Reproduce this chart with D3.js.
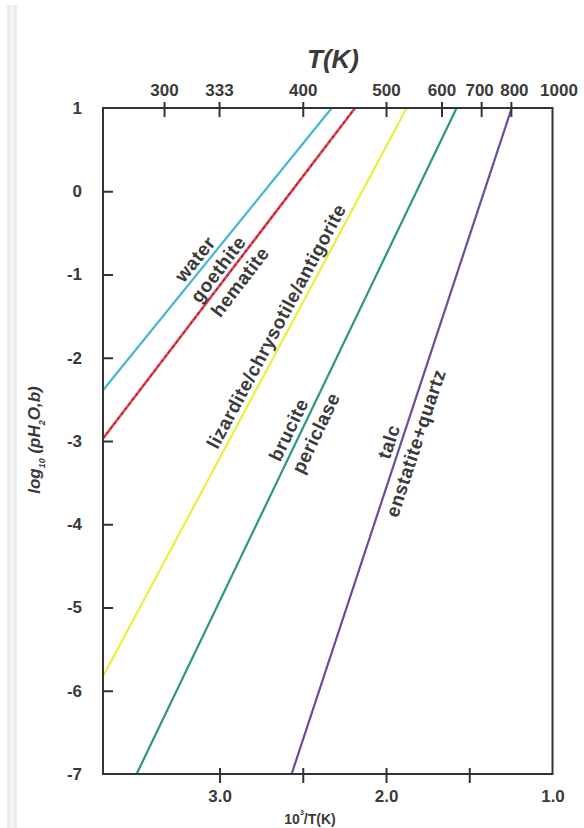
<!DOCTYPE html>
<html><head><meta charset="utf-8">
<script src="https://cdn.jsdelivr.net/npm/d3@7"></script>
<style>
body{margin:0;background:#fff;}
svg{display:block;font-family:"Liberation Sans",Arial,sans-serif;}
</style></head>
<body>
<svg id="chart" width="584" height="828"></svg>
<script>
// ---- data ----
const xDomain = [3.7, 1.0];           // 10^3/T(K)
const yDomain = [-7, 1];              // log10(pH2O, b)
const bottomTicks = [3.0, 2.5, 2.0, 1.5, 1.0];
const bottomTickLabels = ["3.0", "", "2.0", "", "1.0"];
const topTempsK = [300, 333, 400, 500, 600, 700, 800, 1000];
const yTicks = [1, 0, -1, -2, -3, -4, -5, -6, -7];

const lineNames = ["water/goethite", "goethite/hematite", "serpentine", "brucite/periclase", "talc/enstatite"];
const lineColors = ["#45b6d6", "#e8424c", "#eeee3c", "#2c9878", "#6b4b9c"];
const waterLine   = [[3.7, -2.39], [2.326, 1]];
const hematiteLine= [[3.7, -2.97], [2.186, 1]];
const serpLine    = [[3.7, -5.83], [1.876, 1]];
const bruciteLine = [[3.498, -7], [1.576, 1]];
const talcLine    = [[2.567, -7], [1.245, 1]];
const lines = [waterLine, hematiteLine, serpLine, bruciteLine, talcLine];

const labelTexts = ["water", "goethite", "hematite", "lizardite/chrysotile/antigorite", "brucite", "periclase", "talc", "enstatite+quartz"];
const labelLine  = [0, 1, 1, 2, 3, 3, 4, 4];
const labelLogP  = [-0.90, -1.018, -0.987, -1.691, -2.928, -2.832, -3.053, -2.974]; // foot point on the line
const labelSide  = [-11, -11, 14, -12, -12, 14, -12, 14];                              // px, perpendicular

// ---- layout ----
const svg = d3.select("#chart");
const L = 103, R = 552.5, T = 108, B = 774;
const x = d3.scaleLinear().domain(xDomain).range([L, R]);
const y = d3.scaleLinear().domain(yDomain).range([B, T]);
const ink = "#3a3a3a";
const font = "Liberation Sans, Arial, sans-serif";

// left page strip
svg.append("rect").attr("x", 7).attr("y", 5).attr("width", 10).attr("height", 823).attr("fill", "#ebebeb");
svg.append("rect").attr("x", 10).attr("y", 5).attr("width", 4).attr("height", 823).attr("fill", "#f4f4f4");

// lines
const lineGen = d3.line().x(d => x(d[0])).y(d => y(d[1]));
const g = svg.append("g");
lines.forEach((ln, i) => {
  g.append("path").attr("d", lineGen(ln)).attr("fill", "none")
    .attr("stroke", lineColors[i]).attr("stroke-width", i === 1 ? 2.6 : 2.2);
  if (i === 1) {
    g.append("path").attr("d", lineGen(ln)).attr("fill", "none")
      .attr("stroke", "#8a2038").attr("stroke-width", 1.1).attr("stroke-dasharray", "3,3");
  }
});

// frame
svg.append("rect").attr("x", L).attr("y", T).attr("width", R - L).attr("height", B - T)
  .attr("fill", "none").attr("stroke", "#333").attr("stroke-width", 2);

// axes
const topScaleVals = topTempsK.map(t => 1000 / t);
const topAxis = d3.axisTop(x).tickValues(topScaleVals).tickSize(6)
  .tickFormat((d, i) => String(topTempsK[i])).tickPadding(6);
const gt = svg.append("g").attr("transform", `translate(0,${T})`).call(topAxis);
const botAxis = d3.axisBottom(x).tickValues(bottomTicks).tickSize(9)
  .tickFormat((d, i) => bottomTickLabels[i]).tickPadding(7);
const gb = svg.append("g").attr("transform", `translate(0,${B})`).call(botAxis);
const leftAxis = d3.axisLeft(y).tickValues(yTicks).tickSize(0).tickPadding(21)
  .tickFormat(d => String(d));
const gl = svg.append("g").attr("transform", `translate(${L},0)`).call(leftAxis);

[gt, gb, gl].forEach(a => {
  a.select(".domain").remove();
  a.selectAll("text").attr("fill", ink).attr("font-size", 17).attr("font-weight", "bold")
    .attr("font-family", font);
  a.selectAll("line").attr("stroke", "#333").attr("stroke-width", 2);
});
// nudge crowded top labels apart
gt.selectAll(".tick text").attr("dx", (d, i) => topTempsK[i] === 800 ? 3 : topTempsK[i] === 1000 ? 6 : topTempsK[i] === 700 ? -2 : 0);
// inner tick parts
gt.selectAll(".tick").filter(d => d > 1.001).append("line").attr("y1", 0).attr("y2", 9)
  .attr("stroke", "#333").attr("stroke-width", 2);
gt.selectAll(".tick").filter(d => d <= 1.001).select("line").remove();
gb.selectAll(".tick").append("line").attr("y1", 0).attr("y2", -6)
  .attr("stroke", "#333").attr("stroke-width", 2);
gb.selectAll(".tick").filter(d => d <= 1.001).selectAll("line").remove();
gl.selectAll(".tick").filter(d => d < 1 && d > -7).append("line").attr("x1", 0).attr("x2", 10)
  .attr("stroke", "#333").attr("stroke-width", 2);

// titles
svg.append("text").attr("x", 333).attr("y", 68).attr("text-anchor", "middle")
  .attr("font-size", 26).attr("font-weight", "bold").attr("font-style", "italic")
  .attr("fill", ink).text("T(K)");

const bl = svg.append("text").attr("x", 310).attr("y", 824).attr("text-anchor", "middle")
  .attr("font-size", 14).attr("font-weight", "bold").attr("fill", ink);
bl.append("tspan").text("10");
bl.append("tspan").attr("font-size", 7).attr("dy", -9).text("3");
bl.append("tspan").attr("dy", 9).text("/T(K)");

const yl = svg.append("text").attr("transform", "translate(40,440) rotate(-90)")
  .attr("text-anchor", "middle").attr("font-size", 17).attr("font-weight", "bold")
  .attr("font-style", "italic").attr("fill", ink);
yl.append("tspan").text("log");
yl.append("tspan").attr("font-size", 9).attr("dy", 5).text("10");
yl.append("tspan").attr("dy", -5).text(" (pH");
yl.append("tspan").attr("font-size", 9).attr("dy", 5).text("2");
yl.append("tspan").attr("dy", -5).text("O,b)");

// line labels
labelTexts.forEach((txt, i) => {
  const ln = lines[labelLine[i]];
  const x0 = x(ln[0][0]), y0 = y(ln[0][1]), x1 = x(ln[1][0]), y1 = y(ln[1][1]);
  const len = Math.hypot(x1 - x0, y1 - y0);
  const ux = (x1 - x0) / len, uy = (y1 - y0) / len;
  const ang = Math.atan2(uy, ux) * 180 / Math.PI;
  const fy = y(labelLogP[i]);
  const fx = x0 + (fy - y0) * (x1 - x0) / (y1 - y0);
  const nx = -uy, ny = ux;           // normal pointing lower-right
  const cx = fx + labelSide[i] * nx, cy = fy + labelSide[i] * ny;
  svg.append("text").attr("transform", `translate(${cx},${cy}) rotate(${ang})`)
    .attr("text-anchor", "middle").attr("dominant-baseline", "central")
    .attr("font-size", 19).attr("font-weight", "bold").attr("letter-spacing", 0.5)
    .attr("font-family", font).attr("fill", ink).text(txt);
});
</script>
</body></html>
